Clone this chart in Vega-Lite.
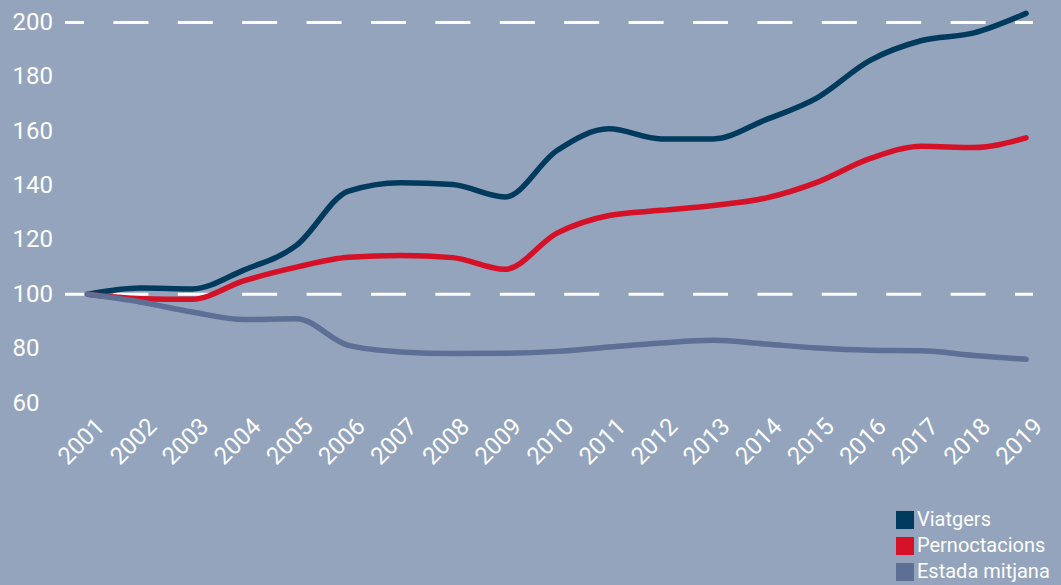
{
  "$schema": "https://vega.github.io/schema/vega-lite/v6.json",
  "width": 968,
  "height": 394,
  "autosize": "none",
  "padding": {"left": 65, "top": 9, "right": 28, "bottom": 182},
  "background": "#93a4bc",
  "config": {
    "view": {"stroke": null},
    "font": "Roboto",
    "axis": {"labelFont": "Roboto", "labelColor": "#ffffff", "domain": false, "ticks": false, "tickSize": 0, "grid": false, "title": null}
  },
  "layer": [
    {
      "data": {"values": [{"ref": 100}, {"ref": 200}]},
      "mark": {"type": "rule", "color": "#ffffff", "strokeWidth": 3, "strokeDash": [35, 29.4], "strokeDashOffset": 17},
      "encoding": {
        "y": {"field": "ref", "type": "quantitative", "scale": {"domain": [60, 205], "nice": false, "zero": false}}
      }
    },
    {
      "data": {"values": [
        {"year": 2001, "serie": "Viatgers", "value": 100},
        {"year": 2002, "serie": "Viatgers", "value": 102.3},
        {"year": 2003, "serie": "Viatgers", "value": 102.0},
        {"year": 2004, "serie": "Viatgers", "value": 109.0},
        {"year": 2005, "serie": "Viatgers", "value": 118.0},
        {"year": 2006, "serie": "Viatgers", "value": 138.0},
        {"year": 2007, "serie": "Viatgers", "value": 141.1},
        {"year": 2008, "serie": "Viatgers", "value": 140.4},
        {"year": 2009, "serie": "Viatgers", "value": 135.8},
        {"year": 2010, "serie": "Viatgers", "value": 152.9},
        {"year": 2011, "serie": "Viatgers", "value": 160.9},
        {"year": 2012, "serie": "Viatgers", "value": 157.2},
        {"year": 2013, "serie": "Viatgers", "value": 157.2},
        {"year": 2014, "serie": "Viatgers", "value": 164.2},
        {"year": 2015, "serie": "Viatgers", "value": 172.4},
        {"year": 2016, "serie": "Viatgers", "value": 186.0},
        {"year": 2017, "serie": "Viatgers", "value": 193.4},
        {"year": 2018, "serie": "Viatgers", "value": 196.2},
        {"year": 2019, "serie": "Viatgers", "value": 203.4},
        {"year": 2001, "serie": "Pernoctacions", "value": 100},
        {"year": 2002, "serie": "Pernoctacions", "value": 98.4},
        {"year": 2003, "serie": "Pernoctacions", "value": 98.2},
        {"year": 2004, "serie": "Pernoctacions", "value": 105.0},
        {"year": 2005, "serie": "Pernoctacions", "value": 110.0},
        {"year": 2006, "serie": "Pernoctacions", "value": 113.6},
        {"year": 2007, "serie": "Pernoctacions", "value": 114.3},
        {"year": 2008, "serie": "Pernoctacions", "value": 113.5},
        {"year": 2009, "serie": "Pernoctacions", "value": 109.2},
        {"year": 2010, "serie": "Pernoctacions", "value": 122.5},
        {"year": 2011, "serie": "Pernoctacions", "value": 129.0},
        {"year": 2012, "serie": "Pernoctacions", "value": 130.9},
        {"year": 2013, "serie": "Pernoctacions", "value": 132.7},
        {"year": 2014, "serie": "Pernoctacions", "value": 135.4},
        {"year": 2015, "serie": "Pernoctacions", "value": 141.3},
        {"year": 2016, "serie": "Pernoctacions", "value": 149.9},
        {"year": 2017, "serie": "Pernoctacions", "value": 154.5},
        {"year": 2018, "serie": "Pernoctacions", "value": 154.0},
        {"year": 2019, "serie": "Pernoctacions", "value": 157.6},
        {"year": 2001, "serie": "Estada mitjana", "value": 100},
        {"year": 2002, "serie": "Estada mitjana", "value": 97.2},
        {"year": 2003, "serie": "Estada mitjana", "value": 93.5},
        {"year": 2004, "serie": "Estada mitjana", "value": 90.7},
        {"year": 2005, "serie": "Estada mitjana", "value": 91.0},
        {"year": 2006, "serie": "Estada mitjana", "value": 81.2},
        {"year": 2007, "serie": "Estada mitjana", "value": 78.8},
        {"year": 2008, "serie": "Estada mitjana", "value": 78.2},
        {"year": 2009, "serie": "Estada mitjana", "value": 78.3},
        {"year": 2010, "serie": "Estada mitjana", "value": 79.0},
        {"year": 2011, "serie": "Estada mitjana", "value": 80.6},
        {"year": 2012, "serie": "Estada mitjana", "value": 82.1},
        {"year": 2013, "serie": "Estada mitjana", "value": 83.1},
        {"year": 2014, "serie": "Estada mitjana", "value": 81.7},
        {"year": 2015, "serie": "Estada mitjana", "value": 80.2},
        {"year": 2016, "serie": "Estada mitjana", "value": 79.4},
        {"year": 2017, "serie": "Estada mitjana", "value": 79.2},
        {"year": 2018, "serie": "Estada mitjana", "value": 77.5},
        {"year": 2019, "serie": "Estada mitjana", "value": 76.1}
      ]},
      "mark": {"type": "line", "strokeWidth": 5.5, "strokeCap": "round", "strokeJoin": "round", "interpolate": "monotone"},
      "encoding": {
        "x": {
          "field": "year", "type": "quantitative",
          "scale": {"domain": [2000.559, 2019.134], "nice": false, "zero": false},
          "axis": {"values": [2001, 2002, 2003, 2004, 2005, 2006, 2007, 2008, 2009, 2010, 2011, 2012, 2013, 2014, 2015, 2016, 2017, 2018, 2019],
                   "format": "d", "labelAngle": -45, "labelAlign": "right", "labelBaseline": "top", "labelFontSize": 24, "labelPadding": 11, "labelOffset": 4, "labelFlush": false, "labelOverlap": false}
        },
        "y": {
          "field": "value", "type": "quantitative",
          "scale": {"domain": [60, 205], "nice": false, "zero": false},
          "axis": {"values": [60, 80, 100, 120, 140, 160, 180, 200], "labelAlign": "left", "labelBaseline": "middle", "labelPadding": 53, "labelFontSize": 24}
        },
        "color": {
          "field": "serie", "type": "nominal",
          "scale": {"domain": ["Viatgers", "Pernoctacions", "Estada mitjana"], "range": ["#003a5c", "#d51128", "#5d6f94"]},
          "legend": {"title": null, "orient": "none", "legendX": 830, "legendY": 501, "padding": 0,
                     "symbolType": "square", "symbolSize": 324, "symbolStrokeWidth": 0, "symbolOpacity": 1,
                     "labelFont": "Roboto", "labelFontSize": 20, "labelColor": "#ffffff", "labelOffset": 2, "rowPadding": 6,
                     "encode": {"symbols": {"update": {"fill": {"scale": "color", "field": "value"}, "strokeWidth": {"value": 0}}}}}
        }
      }
    }
  ]
}
